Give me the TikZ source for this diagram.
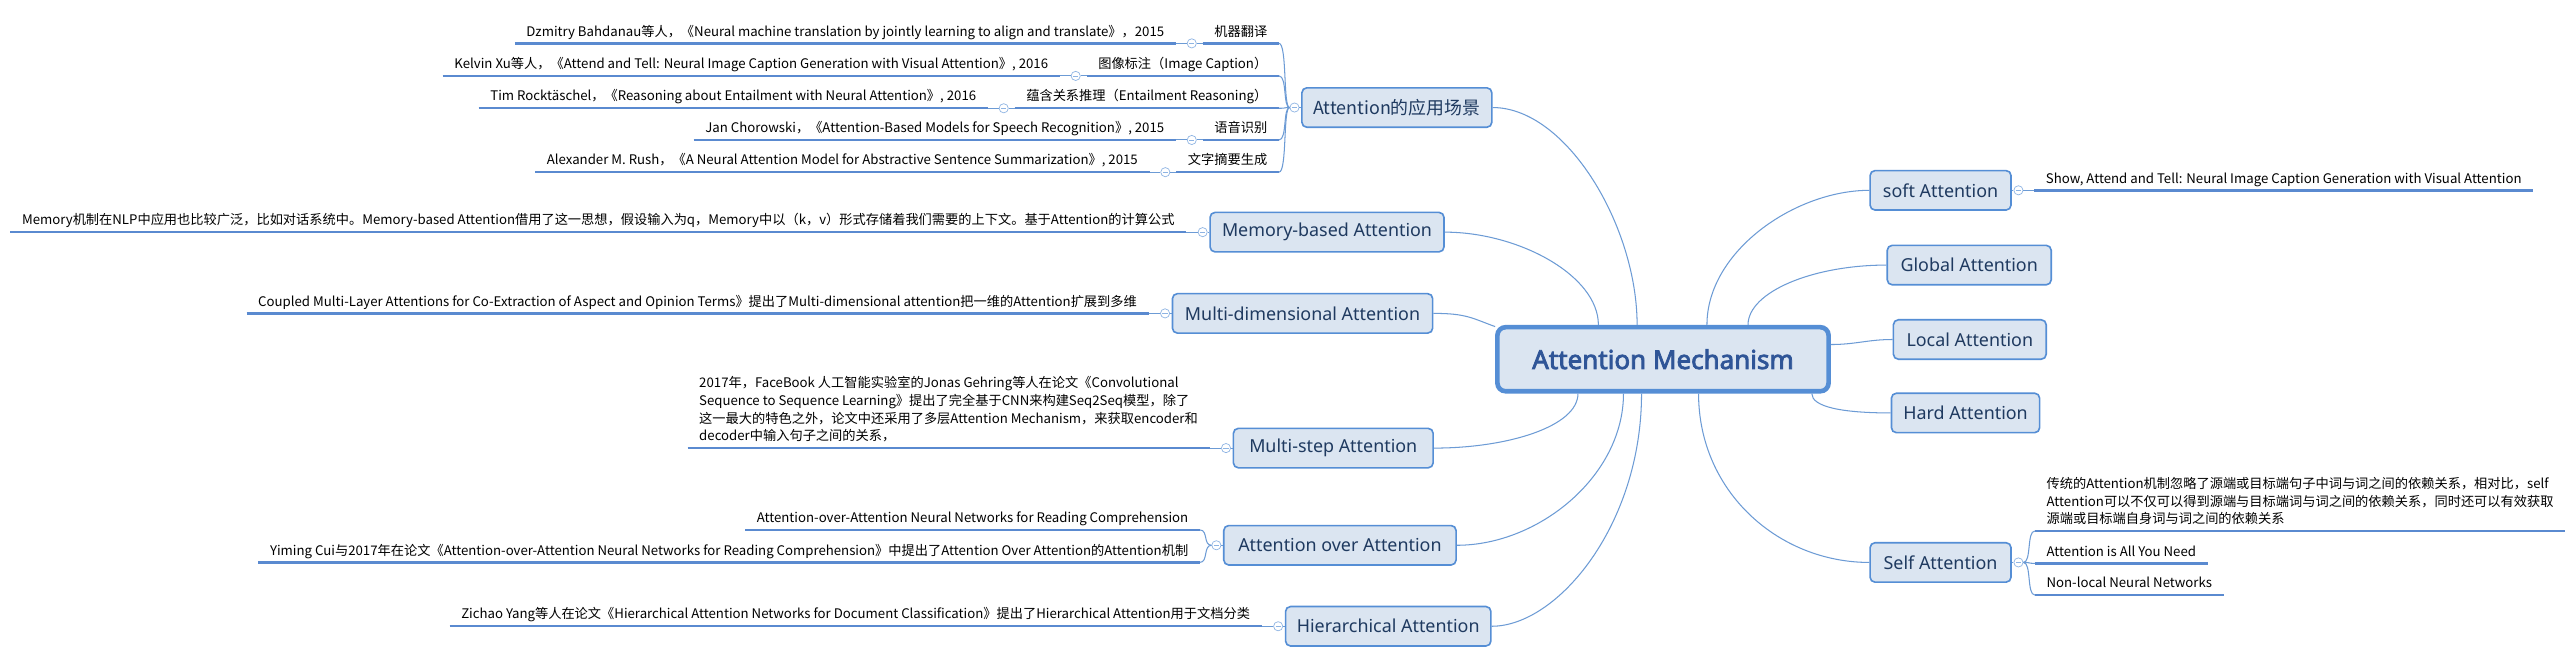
\documentclass[tikz,border=0pt]{standalone}
\usepackage{fontspec}
\setmainfont{Noto Sans}
\newfontfamily\corefont{Noto Sans}[FakeBold=3]
\newfontfamily\cjk{Noto Sans CJK SC}
\usetikzlibrary{positioning}
\definecolor{boxfill}{HTML}{DBE5F1}
\definecolor{boxline}{HTML}{558ED5}
\definecolor{boxtext}{HTML}{1F3A60}
\definecolor{coretext}{HTML}{2F5597}
\definecolor{twigblue}{HTML}{6C9BD5}
\definecolor{ulblue}{HTML}{5A8AD0}
\definecolor{foldblue}{HTML}{8EB4E3}

\begin{document}
\begin{tikzpicture}[
x=0.05cm, y=0.05cm,
topic/.style={draw=boxline, fill=boxfill, line width=1.4pt, rounded corners=0.15cm, text=boxtext, font=\fontsize{15.5}{18}\selectfont, minimum height=1.2cm, inner xsep=2pt},
core/.style={draw=boxline, fill=boxfill, line width=4pt, rounded corners=0.25cm, text=coretext, font=\corefont\fontsize{22.5}{26}\selectfont, minimum width=10.08cm, minimum height=1.95cm},
leaf/.style={font=\cjk\fontsize{11.45}{15.3}\selectfont, text=black, inner xsep=0.35cm, inner ysep=3.6pt, text depth=2.5pt, align=left},
fold/.style={circle, draw=foldblue, fill=white, line width=0.6pt, minimum size=2.8mm, inner sep=0pt, path picture={\draw[foldblue, line width=0.6pt] ([xshift=-0.8mm]path picture bounding box.center) -- ([xshift=0.8mm]path picture bounding box.center);}},
uline/.style={ulblue, line width=2.1pt},
twig/.style={twigblue, line width=0.9pt},
]
\useasboundingbox (0,0) rectangle (1568,-404);
\fill[white] (0,0) rectangle (1568,-404);

%Central topic
\node[core] (core) at (1012.25,-218.65) {Attention Mechanism};

%Left topics
\node[topic, minimum width=5.78cm, font=\cjk\fontsize{15.5}{18}\selectfont] (app) at (850.25,-65.45) {Attention的应用场景};
\node[topic, minimum width=7.12cm] (mem)   at (807.75,-141.3)  {Memory-based Attention};
\node[topic, minimum width=7.92cm] (mdim)  at (792.85,-190.75) {Multi-dimensional Attention};
\node[topic, minimum width=6.08cm] (mstep) at (811.55,-272.75) {Multi-step Attention};
\node[topic, minimum width=7.07cm] (aoa)   at (815.6,-331.9)   {Attention over Attention};
\node[topic, minimum width=6.25cm] (hier)  at (845,-381.2)     {Hierarchical Attention};

%Right topics
\node[topic, minimum width=4.29cm] (soft)   at (1181.2,-115.85) {soft Attention};
\node[topic, minimum width=4.99cm] (global) at (1198.65,-161.35) {Global Attention};
\node[topic, minimum width=4.65cm] (local)  at (1199,-206.65)   {Local Attention};
\node[topic, minimum width=4.51cm] (hard)   at (1196.4,-251.35) {Hard Attention};
\node[topic, minimum width=4.29cm] (self)   at (1181.2,-342.35) {Self Attention};

%Fold marks
\node[fold, left=0.5mm of app]   (appf)   {};
\node[fold, left=0.5mm of mem]   (memf)   {};
\node[fold, left=0.5mm of mdim]  (mdimf)  {};
\node[fold, left=0.5mm of mstep] (mstepf) {};
\node[fold, left=0.5mm of aoa]   (aoaf)   {};
\node[fold, left=0.5mm of hier]  (hierf)  {};
\node[fold, right=0.5mm of soft] (softf)  {};
\node[fold, right=0.5mm of self] (selff)  {};

%Application scenes
\node[leaf, anchor=south east] (mt) at (778.5,-26.4)  {机器翻译};
\node[leaf, anchor=south east] (ic) at (778.5,-46.2)  {图像标注（Image Caption）};
\node[leaf, anchor=south east] (er) at (778.5,-65.9)  {蕴含关系推理（Entailment Reasoning）};
\node[leaf, anchor=south east] (sr) at (778.5,-85.2)  {语音识别};
\node[leaf, anchor=south east] (ts) at (778.5,-104.8) {文字摘要生成};
\node[fold, left=1.8mm of mt.south west] (mtf) {};
\node[fold, left=1.8mm of ic.south west] (icf) {};
\node[fold, left=1.8mm of er.south west] (erf) {};
\node[fold, left=1.8mm of sr.south west] (srf) {};
\node[fold, left=1.8mm of ts.south west] (tsf) {};
\node[leaf, left=3.3mm of mtf, anchor=south east] (mtp) {Dzmitry Bahdanau等人，《Neural machine translation by jointly learning to align and translate》，2015};
\node[leaf, left=3.3mm of icf, anchor=south east] (icp) {Kelvin Xu等人，《Attend and Tell: Neural Image Caption Generation with Visual Attention》, 2016};
\node[leaf, left=3.3mm of erf, anchor=south east] (erp) {Tim Rocktäschel，《Reasoning about Entailment with Neural Attention》, 2016};
\node[leaf, left=3.3mm of srf, anchor=south east] (srp) {Jan Chorowski，《Attention-Based Models for Speech Recognition》, 2015};
\node[leaf, left=3.3mm of tsf, anchor=south east] (tsp) {Alexander M. Rush，《A Neural Attention Model for Abstractive Sentence Summarization》, 2015};

%Left details
\node[leaf, left=3.5mm of memf, anchor=south east] (memt) {Memory机制在NLP中应用也比较广泛，比如对话系统中。Memory-based Attention借用了这一思想，假设输入为q，Memory中以（k，v）形式存储着我们需要的上下文。基于Attention的计算公式};
\node[leaf, left=3.5mm of mdimf, anchor=south east] (mdimt) {Coupled Multi-Layer Attentions for Co-Extraction of Aspect and Opinion Terms》提出了Multi-dimensional attention把一维的Attention扩展到多维};
\node[leaf, left=3.5mm of mstepf, anchor=south east] (mstept) {2017年，FaceBook 人工智能实验室的Jonas Gehring等人在论文《Convolutional\\Sequence to Sequence Learning》提出了完全基于CNN来构建Seq2Seq模型，除了\\这一最大的特色之外，论文中还采用了多层Attention Mechanism，来获取encoder和\\decoder中输入句子之间的关系，};
\node[leaf, anchor=south east] (aoat) at (730.4,-322.6) {Attention-over-Attention Neural Networks for Reading Comprehension};
\node[leaf, anchor=south east] (aoac) at (730.4,-342.3) {Yiming Cui与2017年在论文《Attention-over-Attention Neural Networks for Reading Comprehension》中提出了Attention Over Attention的Attention机制};
\node[leaf, left=3.5mm of hierf, anchor=south east] (hiert) {Zichao Yang等人在论文《Hierarchical Attention Networks for Document Classification》提出了Hierarchical Attention用于文档分类};

%Right details
\node[leaf, right=3.3mm of softf, anchor=south west] (softt) {Show, Attend and Tell: Neural Image Caption Generation with Visual Attention};
\node[leaf, anchor=south west] (selft) at (1238.6,-323.2) {传统的Attention机制忽略了源端或目标端句子中词与词之间的依赖关系，相对比，self\\Attention可以不仅可以得到源端与目标端词与词之间的依赖关系，同时还可以有效获取\\源端或目标端自身词与词之间的依赖关系};
\node[leaf, anchor=south west] (selfn) at (1238.6,-342.9) {Attention is All You Need};
\node[leaf, anchor=south west] (selfl) at (1238.6,-362.2) {Non-local Neural Networks};

%Underlines
\foreach \n in {mt,ic,er,sr,ts,mtp,icp,erp,srp,tsp,memt,mdimt,mstept,aoat,aoac,hiert,softt,selft,selfn,selfl}
  \draw[uline] (\n.south west) -- (\n.south east);

%Lines
\draw[twig] (app.east) .. controls +(right:45) and +(up:60) .. (core.127);
\draw[twig] (mem.east) .. controls +(right:45) and +(up:30) .. (core.152);
\draw[twig] (mdim.east) .. controls +(right:20) and +(160:15) .. (core.169);
\draw[twig] (mstep.east) .. controls +(right:45) and +(down:20) .. (core.202);
\draw[twig] (aoa.east) .. controls +(right:50) and +(down:50) .. (core.221);
\draw[twig] (hier.east) .. controls +(right:40) and +(down:80) .. (core.238);
\draw[twig] (soft.west) .. controls +(left:45) and +(up:45) .. (core.38);
\draw[twig] (global.west) .. controls +(left:45) and +(up:20) .. (core.22);
\draw[twig] (local.west) .. controls +(left:15) and +(right:15) .. (core.5);
\draw[twig] (hard.west) .. controls +(left:30) and +(down:8) .. (core.347);
\draw[twig] (self.west) .. controls +(left:55) and +(down:60) .. (core.316);

\draw[twig] (app) -- (appf);
\foreach \n in {mt,ic,er,sr,ts}
  \draw[twig] (appf.west) .. controls +(left:4) and +(right:5) .. (\n.south east);
\draw[twig] (mtp.south east) -- (mtf) -- (mt.south west);
\draw[twig] (icp.south east) -- (icf) -- (ic.south west);
\draw[twig] (erp.south east) -- (erf) -- (er.south west);
\draw[twig] (srp.south east) -- (srf) -- (sr.south west);
\draw[twig] (tsp.south east) -- (tsf) -- (ts.south west);

\draw[twig] (memt.south east) -- (memf) -- (mem);
\draw[twig] (mdimt.south east) -- (mdimf) -- (mdim);
\draw[twig] (mstept.south east) -- (mstepf) -- (mstep);
\draw[twig] (hiert.south east) -- (hierf) -- (hier);
\draw[twig] (aoaf) -- (aoa);
\foreach \n in {aoat,aoac}
  \draw[twig] (aoaf.west) .. controls +(left:5) and +(right:5) .. (\n.south east);

\draw[twig] (soft) -- (softf) -- (softt.south west);
\draw[twig] (self) -- (selff);
\foreach \n in {selft,selfn,selfl}
  \draw[twig] (selff.east) .. controls +(right:5) and +(left:5) .. (\n.south west);

\end{tikzpicture}
\end{document}
